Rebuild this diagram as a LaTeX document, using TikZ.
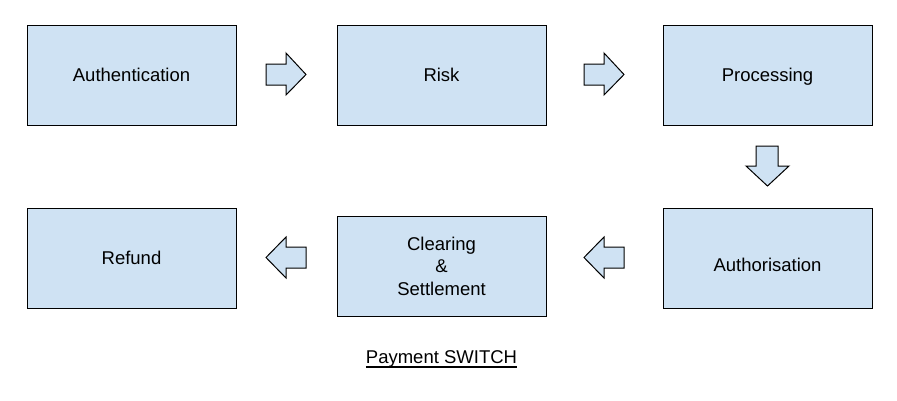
\documentclass[tikz,border=0pt]{standalone}
\usepackage{fontspec}
\setmainfont{Liberation Sans}
\definecolor{boxfill}{HTML}{CFE2F3}
\begin{document}
\begin{tikzpicture}[x=1pt,y=-1pt,
  stagebox/.style={draw=black, line width=1pt, fill=boxfill, minimum width=209pt, minimum height=100pt, inner sep=0pt, align=center, font=\fontsize{18.5}{22.5}\selectfont, text height=17.4pt, text depth=4.6pt},
  blockarrow/.style={draw=black, line width=1pt, fill=boxfill, line join=miter}]
\useasboundingbox (0,0) rectangle (897,400);
\node[stagebox] (auth) at (131.5,75) {Authentication};
\node[stagebox] (risk) at (441.5,75) {Risk};
\node[stagebox] (proc) at (767.5,75) {Processing};
\node[stagebox] (authz) at (767.5,258) {\raisebox{-7.5pt}{Authorisation}};
\node[stagebox, text height=, text depth=] (clear) at (441.5,266) {Clearing\\\&\\Settlement};
\node[stagebox] (refund) at (131.5,258) {Refund};
% right arrows
\draw[blockarrow] (266,64) -- (286,64) -- (286,53) -- (306,74.5) -- (286,95) -- (286,85) -- (266,85) -- cycle;
\draw[blockarrow] (584,64) -- (604,64) -- (604,53) -- (624,74.5) -- (604,95) -- (604,85) -- (584,85) -- cycle;
% down arrow
\draw[blockarrow] (756,146) -- (778,146) -- (778,166) -- (789,166) -- (767.5,186) -- (746,166) -- (756,166) -- cycle;
% left arrows
\draw[blockarrow] (624,247) -- (604,247) -- (604,237) -- (584,257.5) -- (604,278) -- (604,268) -- (624,268) -- cycle;
\draw[blockarrow] (306,247) -- (286,247) -- (286,237) -- (266,257.5) -- (286,278) -- (286,268) -- (306,268) -- cycle;
\node[font=\fontsize{18.5}{22.5}\selectfont, inner sep=0pt, anchor=base] (title) at (441.5,363) {Payment SWITCH};
\draw[line width=1.2pt] ([yshift=-4pt]title.base west) -- ([yshift=-4pt]title.base east);
\end{tikzpicture}
\end{document}
